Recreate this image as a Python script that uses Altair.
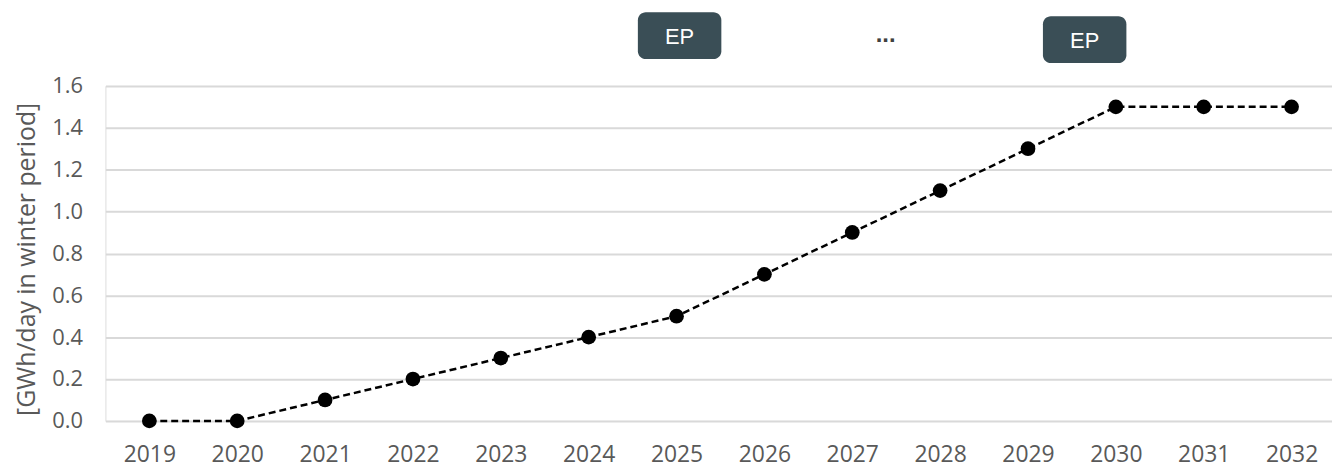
import altair as alt
import pandas as pd

years = [2019, 2020, 2021, 2022, 2023, 2024, 2025, 2026, 2027, 2028, 2029, 2030, 2031, 2032]
values = [0.0, 0.0, 0.1, 0.2, 0.3, 0.4, 0.5, 0.7, 0.9, 1.1, 1.3, 1.5, 1.5, 1.5]

# annotation boxes above the plot (in data units of the shared scales)
box_x = [2024.56, 2029.17]
box_x2 = [2025.51, 2030.12]
box_y = [1.728, 1.709]
box_y2 = [1.952, 1.933]
box_label = ["EP", "EP"]
dots_x = [2027.38]
dots_y = [1.845]
dots_label = ["..."]

df = pd.DataFrame({"year": years, "value": values})
boxes = pd.DataFrame({
    "x": box_x, "x2": box_x2, "y": box_y, "y2": box_y2, "label": box_label,
    "xc": [(a + b) / 2 for a, b in zip(box_x, box_x2)],
    "yc": [(a + b) / 2 for a, b in zip(box_y, box_y2)],
})
dots = pd.DataFrame({"x": dots_x, "y": dots_y, "label": dots_label})

xscale = alt.Scale(domain=[2018.5, 2032.46], nice=False, zero=False)
yscale = alt.Scale(domain=[0, 1.6], nice=False)

x_enc = alt.X("year:Q", scale=xscale, axis=alt.Axis(
    values=years, format="d", title=None, grid=False, domain=False, ticks=False,
    tickSize=0, labelPadding=41, labelBaseline="alphabetic", labelFontSize=23,
    labelColor="#595959", labelFont="Open Sans", labelFlush=False))
y_enc = alt.Y("value:Q", scale=yscale, axis=alt.Axis(
    values=[0, 0.2, 0.4, 0.6, 0.8, 1.0, 1.2, 1.4, 1.6], format=".1f",
    title="[GWh/day in winter period]", titleFontSize=25, titleFont="Open Sans",
    titleFontWeight="normal", titleColor="#595959", titleX=-79, titleY=174,
    titleAngle=-90, titleAlign="center", titleBaseline="middle",
    grid=True, gridColor="#d9d9d9", gridWidth=2, domain=False, ticks=False,
    tickSize=0, labelPadding=23, labelFontSize=22, labelColor="#595959",
    labelFont="Open Sans"))

line = alt.Chart(df).mark_line(color="black", strokeWidth=2.5, strokeDash=[7, 4]).encode(
    x=x_enc, y=y_enc)
pts = alt.Chart(df).mark_point(filled=True, shape="circle", size=220, color="black", opacity=1).encode(
    x="year:Q", y="value:Q")

rects = alt.Chart(boxes).mark_rect(color="#3a4e56", cornerRadius=8, clip=False).encode(
    x=alt.X("x:Q"), x2="x2:Q", y=alt.Y("y:Q"), y2="y2:Q")
rtext = alt.Chart(boxes).mark_text(color="white", fontSize=22, font="Liberation Sans",
                                   baseline="middle", align="center", dy=1, clip=False).encode(
    x="xc:Q", y="yc:Q", text="label:N")
dtext = alt.Chart(dots).mark_text(color="#404040", fontSize=24, fontWeight="bold",
                                  font="Liberation Sans", baseline="middle", align="center",
                                  clip=False).encode(
    x="x:Q", y="y:Q", text="label:N")

chart = alt.layer(line, pts, rects, rtext, dtext).properties(
    width=1234, height=337,
    autosize=alt.AutoSizeParams(type="none"),
    padding={"left": 98, "top": 77, "right": 0, "bottom": 46},
).configure_view(stroke=None).configure(background="white")

chart.save("out.html", embed_options={"renderer": "svg", "actions": False})
